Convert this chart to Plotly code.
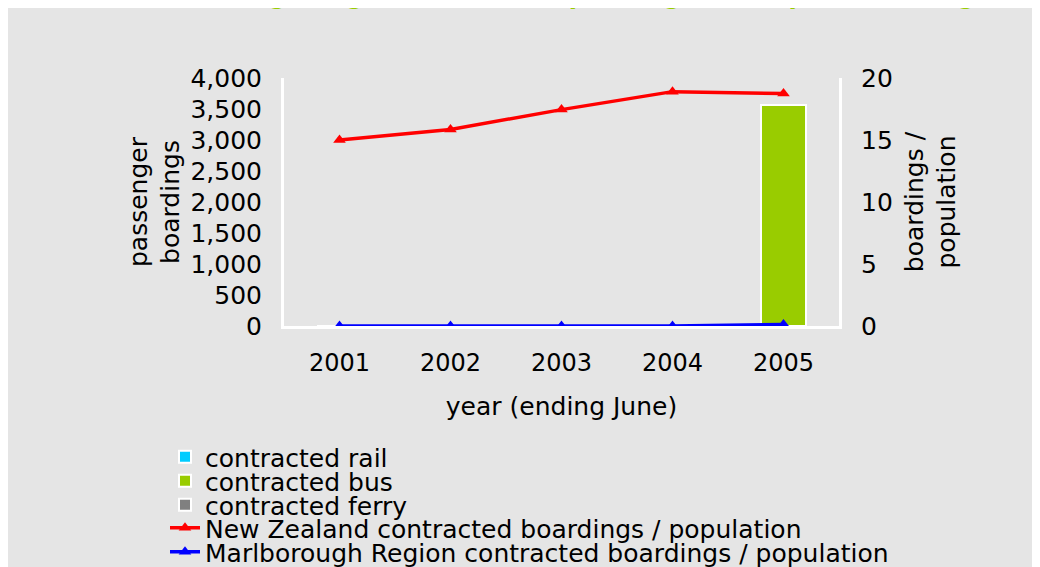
import plotly.graph_objects as go

years = ["2001", "2002", "2003", "2004", "2005"]
rail = [0, 0, 0, 0, 0]
bus = [0, 0, 0, 0, 3560]
ferry = [0, 0, 0, 0, 0]
nz_per_pop = [15.0, 15.85, 17.45, 18.9, 18.75]
marl_per_pop = [0.0, 0.0, 0.0, 0.0, 0.13]

left_ticks = [0, 500, 1000, 1500, 2000, 2500, 3000, 3500, 4000]
right_ticks = [0, 5, 10, 15, 20]

title_text = "Marlborough Region contracted passenger transport boardings"

FONT = "DejaVu Sans"
OFF = 8  # page body margin
W, H = 1040 - OFF, 567 - OFF
L, R, T, B = 284 - OFF, 839 - OFF, 78 - OFF, 326 - OFF
PW, PH = R - L, B - T


def px_x(x):
    return (x - OFF - L) / PW


def px_y(y):
    return (B - (y - OFF)) / PH


fig = go.Figure()

fig.add_trace(go.Bar(x=years, y=rail, name="contracted rail", marker=dict(color="#00ccff", line=dict(color="white", width=2)), legend="legend", width=0.4))
fig.add_trace(go.Bar(x=years, y=bus, name="contracted bus", marker=dict(color="#99cc00", line=dict(color="white", width=2)), legend="legend2", width=0.4))
fig.add_trace(go.Bar(x=years, y=ferry, name="contracted ferry", marker=dict(color="#808080", line=dict(color="white", width=2)), legend="legend3", width=0.4))
fig.add_trace(go.Scatter(x=years, y=nz_per_pop, name="New Zealand contracted boardings / population", yaxis="y2",
                         mode="lines+markers", line=dict(color="#ff0000", width=3.5),
                         marker=dict(symbol="triangle-up", size=11, color="#ff0000"), legend="legend4"))
fig.add_trace(go.Scatter(x=years, y=marl_per_pop, name="Marlborough Region contracted boardings / population", yaxis="y2",
                         mode="lines+markers", line=dict(color="#0000ff", width=3.5),
                         marker=dict(symbol="triangle-up", size=11, color="#0000ff"), legend="legend5"))

rows = [457, 481, 505, 528, 552]
legend_common = dict(x=px_x(165), xanchor="left", yanchor="middle", bgcolor="rgba(0,0,0,0)",
                     font=dict(family=FONT, size=25, color="black"), borderwidth=0)
legends = {}
for i, ry in enumerate(rows):
    key = "legend" if i == 0 else f"legend{i+1}"
    legends[key] = dict(legend_common, y=px_y(ry))

fig.update_layout(
    width=W, height=H,
    margin=dict(l=L, r=W - R, t=T, b=H - B, autoexpand=False),
    paper_bgcolor="#e5e5e5",
    plot_bgcolor="rgba(0,0,0,0)",
    barmode="stack",
    showlegend=True,
    font=dict(family=FONT, size=24, color="black"),
    xaxis=dict(
        type="category", range=[-0.5, 4.5], showgrid=False, zeroline=False,
        showline=True, linecolor="white", linewidth=3,
        ticks="outside", ticklen=13, tickcolor="rgba(0,0,0,0)",
        tickfont=dict(family=FONT, size=24),
        title=dict(text="year (ending June)", font=dict(family=FONT, size=25), standoff=22),
    ),
    yaxis=dict(
        range=[0, 4000], tickvals=left_ticks, tickformat=",d", showgrid=False, zeroline=False,
        showline=True, linecolor="white", linewidth=3,
        ticks="outside", ticklen=14, tickcolor="rgba(0,0,0,0)",
        tickfont=dict(family=FONT, size=25),
        title=dict(text="passenger<br>boardings", font=dict(family=FONT, size=25), standoff=4),
    ),
    yaxis2=dict(
        range=[0, 20], tickvals=right_ticks, overlaying="y", side="right", showgrid=False, zeroline=False,
        showline=True, linecolor="white", linewidth=3,
        ticks="outside", ticklen=14, tickcolor="rgba(0,0,0,0)",
        tickfont=dict(family=FONT, size=25),
        title=dict(text="boardings /<br>population", font=dict(family=FONT, size=25), standoff=14),
    ),
    annotations=[dict(text="<b>" + title_text + "</b>", xref="paper", yref="paper",
                      x=px_x(560), y=px_y(12), xanchor="center", yanchor="bottom", showarrow=False,
                      font=dict(family=FONT, size=24, color="#99cc00"))],
    **legends,
)

fig.write_html("out.html")
